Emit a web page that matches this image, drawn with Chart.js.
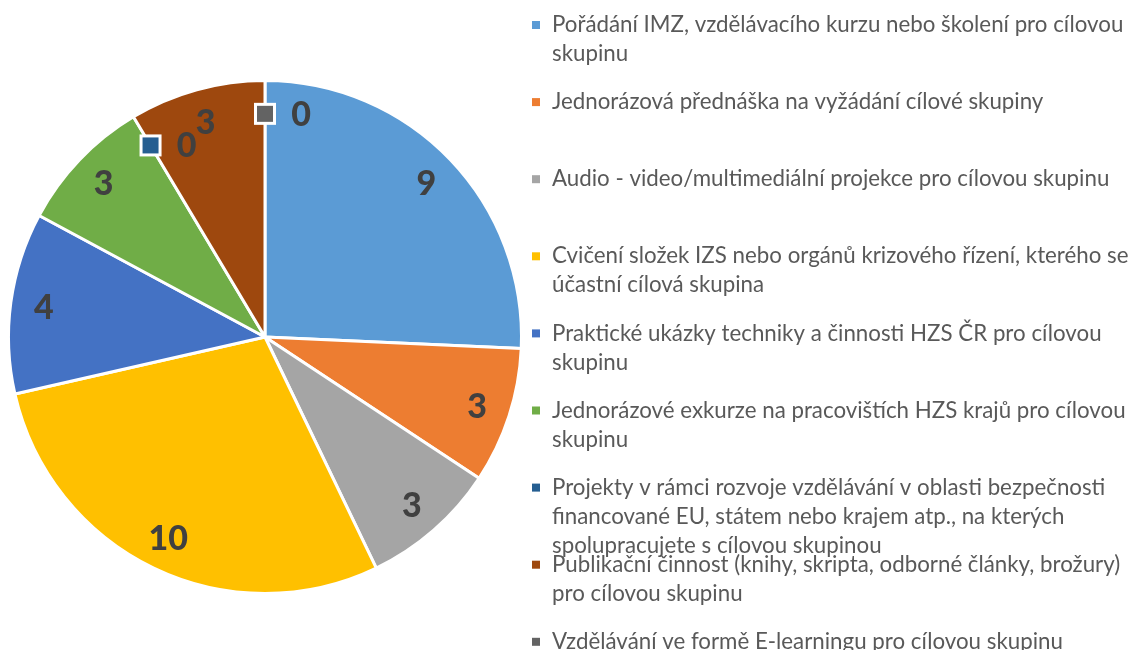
<!DOCTYPE html>
<html>
<head>
<meta charset="utf-8">
<script src="https://cdn.jsdelivr.net/npm/chart.js@4"></script>
<style>
  body { margin: 0; background: #fff; }
</style>
</head>
<body>
<canvas id="chart" width="1128" height="650"></canvas>
<script>
// legend labels, already wrapped like in the original
const categories = [
  ["Pořádání IMZ, vzdělávacího kurzu nebo školení pro cílovou", "skupinu"],
  ["Jednorázová přednáška na vyžádání cílové skupiny"],
  ["Audio - video/multimediální projekce pro cílovou skupinu"],
  ["Cvičení složek IZS nebo orgánů krizového řízení, kterého se", "účastní cílová skupina"],
  ["Praktické ukázky techniky a činnosti HZS ČR pro cílovou", "skupinu"],
  ["Jednorázové exkurze na pracovištích HZS krajů pro cílovou", "skupinu"],
  ["Projekty v rámci rozvoje vzdělávání v oblasti bezpečnosti", "financované EU, státem nebo krajem atp., na kterých", "spolupracujete s cílovou skupinou"],
  ["Publikační činnost (knihy, skripta, odborné články, brožury)", "pro cílovou skupinu"],
  ["Vzdělávání ve formě E-learningu pro cílovou skupinu"]
];
const values = [9, 3, 3, 10, 4, 3, 0, 3, 0];
const colors = ["#5B9BD5", "#ED7D31", "#A5A5A5", "#FFC000", "#4472C4", "#70AD47", "#255E91", "#9E480E", "#636363"];

const FONT = "Lato, 'Open Sans', sans-serif";

// value labels inside the slices, zero values get a colour key
const sliceLabels = {
  id: "sliceLabels",
  afterDatasetsDraw(chart) {
    const c = chart.ctx;
    const meta = chart.getDatasetMeta(0);
    c.save();
    c.font = "900 34px " + FONT;
    c.textBaseline = "middle";
    c.textAlign = "center";
    meta.data.forEach((arc, i) => {
      const p = arc.getProps(["x", "y", "startAngle", "endAngle", "outerRadius"], true);
      const mid = (p.startAngle + p.endAngle) / 2;
      const r = p.outerRadius * 0.87;
      const x = p.x + Math.cos(mid) * r;
      const y = p.y + Math.sin(mid) * r;
      if (values[i] === 0) {
        c.fillStyle = "#fff";
        c.fillRect(x - 11, y - 11, 22, 22);
        c.fillStyle = colors[i];
        c.fillRect(x - 8, y - 8, 16, 16);
        c.fillStyle = "#404040";
        c.fillText(String(values[i]), x + 36, y + 1);
      } else {
        c.fillStyle = "#404040";
        c.fillText(String(values[i]), x, y + 1);
      }
    });
    c.restore();
  }
};

// legend on the right, fixed slots like the office chart
const sideLegend = {
  id: "sideLegend",
  afterDraw(chart) {
    const c = chart.ctx;
    c.save();
    c.font = "22.3px " + FONT;
    c.textBaseline = "middle";
    c.textAlign = "left";
    categories.forEach((lines, i) => {
      const y0 = 25 + i * 77.1;
      c.fillStyle = colors[i];
      c.fillRect(532, y0 - 4, 8, 8);
      c.fillStyle = "#595959";
      lines.forEach((t, j) => c.fillText(t, 552, y0 + j * 29));
    });
    c.restore();
  }
};

new Chart(document.getElementById("chart"), {
  type: "pie",
  data: {
    labels: categories.map(l => l.join(" ")),
    datasets: [{
      data: values,
      backgroundColor: colors,
      borderColor: "#fff",
      borderWidth: 3
    }]
  },
  options: {
    responsive: false,
    animation: false,
    layout: { padding: { left: 7, right: 605, top: 79, bottom: 55 } },
    plugins: {
      legend: { display: false },
      tooltip: { enabled: false }
    }
  },
  plugins: [sliceLabels, sideLegend]
});
</script>
</body>
</html>
